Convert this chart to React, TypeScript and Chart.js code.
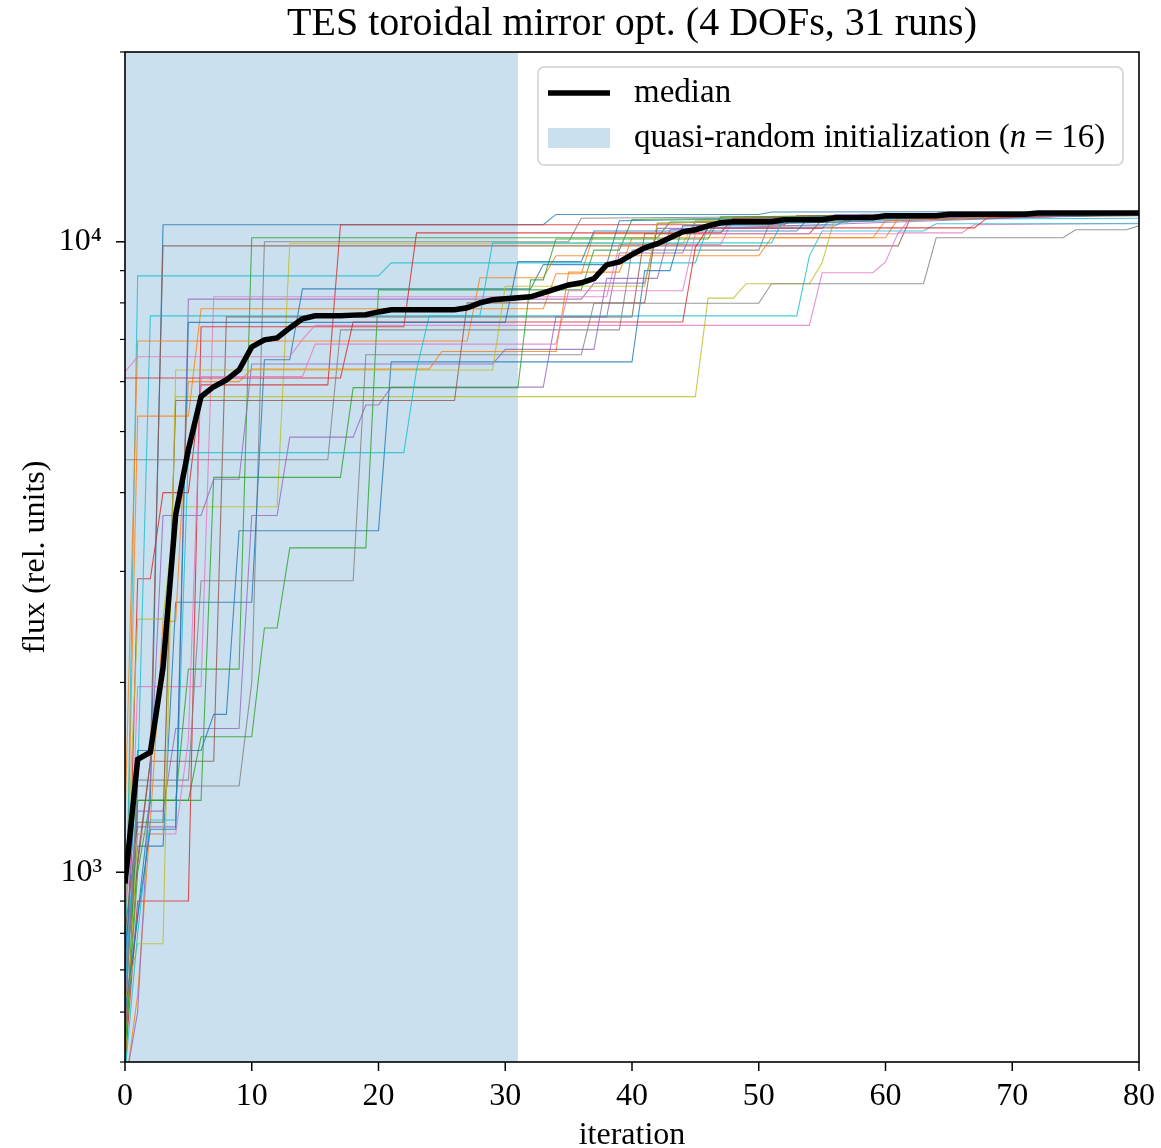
import React, { useEffect, useRef } from "react";
import { Chart, registerables } from "chart.js";

Chart.register(...registerables);

const FONT = '"Liberation Serif", "DejaVu Serif", serif';

const titleText = "TES toroidal mirror opt. (4 DOFs, 31 runs)";
const xTitle = "iteration";
const yTitle = "flux (rel. units)";
const xTicks = [0, 10, 20, 30, 40, 50, 60, 70, 80];
const yTicks = [500, 600, 700, 800, 900, 1000, 2000, 3000, 4000, 5000, 6000, 7000, 8000, 9000, 10000, 20000];
const yMajor = [1000, 10000];
const yLabels: Record<number, string> = { 1000: "10³", 10000: "10⁴" };
const xRange = [0, 80];
const yRange = [500, 20000];
const initRange = [0, 31];
const legendMedian = "median";
const legendInit = ["quasi-random initialization (", "n", " = 16)"];

const palette = ["#1f77b4", "#ff7f0e", "#2ca02c", "#d62728", "#9467bd", "#8c564b", "#e377c2", "#7f7f7f", "#bcbd22", "#17becf"];

// median best-so-far flux per iteration 0..80
const medianFlux = [
  960, 1510, 1550, 2110, 3690, 4680, 5680, 5890, 6040, 6260,
  6810, 6990, 7040, 7300, 7550, 7630, 7630, 7630, 7650, 7660,
  7740, 7800, 7800, 7800, 7800, 7800, 7800, 7860, 8000, 8090,
  8120, 8150, 8180, 8300, 8420, 8540, 8610, 8740, 9190, 9290,
  9540, 9780, 9930, 10150, 10370, 10450, 10600, 10720, 10760, 10760,
  10760, 10760, 10840, 10840, 10840, 10840, 10920, 10920, 10920, 10920,
  11000, 11000, 11000, 11000, 11000, 11060, 11060, 11060, 11060, 11060,
  11060, 11060, 11110, 11110, 11110, 11110, 11110, 11110, 11110, 11110, 11110,
];

// individual runs: [iteration, flux] vertices of the best-so-far curves
const run00 = [[0, 560], [2, 1300], [3, 10640], [33, 10640], [34, 11050], [50, 11050], [51, 11150], [80, 11170]];
const run01 = [[0, 700], [1, 5290], [5, 5290], [6, 7830], [33, 7830], [34, 8900], [36, 8900], [37, 10300], [46, 10300], [47, 10950], [80, 11120]];
const run02 = [[0, 470], [1, 1300], [4, 1300], [5, 2100], [9, 2100], [10, 10150], [42, 10150], [43, 10750], [57, 10750], [58, 11050], [80, 11130]];
const run03 = [[0, 520], [1, 2920], [2, 2920], [3, 4000], [5, 4000], [6, 5930], [16, 5930], [17, 10640], [52, 10640], [53, 11000], [80, 11150]];
const run04 = [[0, 640], [1, 1180], [4, 1180], [5, 8110], [36, 8110], [37, 8600], [41, 8600], [42, 10500], [55, 10500], [56, 11050], [80, 11110]];
const run05 = [[0, 700], [2, 1500], [3, 9850], [61, 9850], [62, 10950], [80, 11150]];
const run06 = [[0, 600], [1, 1970], [6, 1970], [7, 8180], [38, 8180], [39, 9900], [47, 9900], [48, 10900], [66, 10900], [67, 11050], [80, 11080]];
const run07 = [[0, 580], [1, 1370], [9, 1370], [10, 2000], [11, 10000], [35, 10000], [36, 10900], [80, 11080]];
const run08 = [[0, 860], [1, 2520], [3, 2520], [4, 3800], [12, 3800], [13, 9930], [44, 9930], [45, 10800], [80, 11100]];
const run09 = [[0, 620], [1, 8830], [20, 8830], [21, 9260], [45, 9260], [46, 10600], [56, 10600], [57, 10850], [80, 10900]];
const run10 = [[0, 760], [1, 1100], [3, 1100], [4, 2680], [10, 2680], [11, 6500], [13, 6500], [14, 8420], [32, 8420], [33, 9200], [38, 9200], [39, 10800], [80, 11100]];
const run11 = [[0, 1200], [1, 6960], [27, 6960], [28, 8770], [33, 8770], [34, 9500], [50, 9500], [51, 10150], [60, 10150], [61, 10900], [80, 11110]];
const run12 = [[0, 480], [1, 1300], [5, 1300], [6, 1640], [10, 1640], [11, 2440], [12, 2440], [13, 3270], [19, 3270], [20, 8390], [36, 8390], [37, 9700], [39, 9700], [40, 10850], [80, 11100]];
const run13 = [[0, 500], [1, 900], [5, 900], [6, 7330], [22, 7330], [23, 10330], [47, 10330], [48, 10900], [80, 11120]];
const run14 = [[0, 650], [1, 1250], [3, 1250], [4, 1690], [9, 1690], [10, 3680], [12, 3680], [13, 4900], [18, 4900], [19, 5510], [20, 5510], [21, 5880], [33, 5880], [34, 7600], [38, 7600], [39, 9600], [44, 9600], [45, 10750], [80, 11060]];
const run15 = [[0, 540], [1, 1050], [2, 1500], [7, 1500], [8, 7600], [40, 7600], [41, 10300], [54, 10300], [55, 10850], [80, 11000]];
const run16 = [[0, 6220], [1, 6570], [13, 6570], [14, 7000], [15, 7370], [54, 7370], [55, 8930], [59, 8930], [60, 9290], [61, 10330], [66, 10330], [67, 10640], [80, 10700]];
const run17 = [[0, 4510], [16, 4510], [17, 7250], [39, 7250], [40, 9700], [50, 9700], [51, 10900], [80, 11050]];
const run18 = [[0, 500], [1, 1150], [3, 1150], [4, 5680], [45, 5680], [46, 8140], [48, 8140], [49, 8580], [54, 8580], [55, 9260], [56, 10900], [80, 11100]];
const run19 = [[0, 640], [1, 1400], [2, 7630], [53, 7630], [54, 9500], [55, 10400], [63, 10400], [64, 10680], [80, 10680]];
const run20 = [[0, 700], [1, 1560], [6, 1560], [7, 1780], [8, 1780], [9, 3480], [20, 3480], [21, 6450], [40, 6450], [41, 9000], [43, 9000], [44, 10600], [80, 11050]];
const run21 = [[0, 450], [1, 640], [2, 1200], [3, 2500], [4, 2500], [5, 6000], [9, 6000], [10, 6280], [24, 6280], [25, 6700], [34, 6700], [35, 8950], [39, 8950], [40, 10150], [59, 10150], [60, 10800], [80, 11100]];
const run22 = [[0, 520], [1, 1000], [2, 1300], [6, 1300], [7, 4230], [17, 4230], [18, 5870], [31, 5870], [32, 8700], [33, 8700], [34, 10100], [46, 10100], [47, 10950], [80, 11130]];
const run23 = [[0, 6080], [17, 6080], [18, 7460], [44, 7460], [45, 9800], [46, 10520], [67, 10520], [68, 10900], [80, 11120]];
const run24 = [[0, 460], [1, 600], [2, 1400], [3, 3680], [6, 3680], [7, 4200], [9, 4200], [10, 6400], [29, 6400], [30, 6750], [37, 6750], [38, 8750], [42, 8750], [43, 10450], [80, 11080]];
const run25 = [[0, 800], [1, 1200], [3, 1200], [4, 5600], [26, 5600], [27, 8000], [41, 8000], [42, 10700], [80, 11120]];
const run26 = [[0, 900], [1, 1150], [4, 1150], [5, 1620], [6, 6110], [14, 6110], [15, 6880], [34, 6880], [35, 8360], [44, 8360], [45, 10300], [61, 10300], [62, 10950], [80, 11100]];
const run27 = [[0, 560], [1, 1400], [5, 1400], [6, 2900], [18, 2900], [19, 6620], [36, 6620], [37, 7990], [50, 7990], [51, 8580], [63, 8580], [64, 10150], [74, 10150], [75, 10450], [79, 10450], [80, 10600]];
const run28 = [[0, 620], [1, 770], [3, 770], [4, 6260], [29, 6260], [30, 8500], [41, 8500], [42, 10700], [80, 11180]];
const run29 = [[0, 480], [1, 800], [2, 1210], [4, 1210], [5, 4630], [22, 4630], [23, 6260], [24, 7630], [28, 7630], [29, 9960], [51, 9960], [52, 10900], [80, 11050]];
const run30 = [[0, 600], [1, 850], [2, 1170], [4, 1170], [5, 7450], [30, 7450], [31, 9300], [36, 9300], [37, 10400], [53, 10400], [54, 10950], [80, 11100]];

const runs = [
  run00, run01, run02, run03, run04, run05, run06, run07, run08, run09,
  run10, run11, run12, run13, run14, run15, run16, run17, run18, run19,
  run20, run21, run22, run23, run24, run25, run26, run27, run28, run29, run30,
];

function withAlpha(hex: string, a: number) {
  const r = parseInt(hex.slice(1, 3), 16);
  const g = parseInt(hex.slice(3, 5), 16);
  const b = parseInt(hex.slice(5, 7), 16);
  return `rgba(${r},${g},${b},${a})`;
}

const SHADE = "rgba(31,119,180,0.23)";

const shadePlugin = {
  id: "initShade",
  beforeDatasetsDraw(chart: any) {
    const { ctx, chartArea: a, scales } = chart;
    const x0 = scales.x.getPixelForValue(initRange[0]);
    const x1 = scales.x.getPixelForValue(initRange[1]);
    ctx.save();
    ctx.fillStyle = SHADE;
    ctx.fillRect(x0, a.top, x1 - x0, a.bottom - a.top);
    ctx.restore();
  },
};

const framePlugin = {
  id: "frameTicks",
  afterDatasetsDraw(chart: any) {
    const { ctx, chartArea: a, scales } = chart;
    ctx.save();
    ctx.strokeStyle = "#000";
    // ticks
    ctx.lineWidth = 1.5;
    for (const v of xTicks) {
      const px = scales.x.getPixelForValue(v);
      ctx.beginPath();
      ctx.moveTo(px, a.bottom);
      ctx.lineTo(px, a.bottom + 9);
      ctx.stroke();
    }
    for (const v of yTicks) {
      const py = scales.y.getPixelForValue(v);
      const major = yMajor.includes(v);
      ctx.lineWidth = major ? 1.5 : 1.2;
      ctx.beginPath();
      ctx.moveTo(a.left, py);
      ctx.lineTo(a.left - (major ? 9 : 5), py);
      ctx.stroke();
    }
    // frame
    ctx.lineWidth = 1.6;
    ctx.strokeRect(a.left, a.top, a.right - a.left, a.bottom - a.top);

    // title (centred on the axes)
    ctx.fillStyle = "#000";
    ctx.textAlign = "center";
    ctx.textBaseline = "middle";
    ctx.font = `40px ${FONT}`;
    ctx.fillText(titleText, (a.left + a.right) / 2, 24);

    // legend
    const fs = 33;
    const normal = `${fs}px ${FONT}`;
    const italic = `italic ${fs}px ${FONT}`;
    ctx.font = normal;
    const w0 = ctx.measureText(legendInit[0]).width;
    const w2 = ctx.measureText(legendInit[2]).width;
    ctx.font = italic;
    const w1 = ctx.measureText(legendInit[1]).width;
    const boxR = a.right - 16;
    const boxW = 585;
    const boxL = boxR - boxW;
    const boxT = a.top + 15;
    const boxH = 98;
    const r = 6;
    ctx.beginPath();
    ctx.moveTo(boxL + r, boxT);
    ctx.lineTo(boxL + boxW - r, boxT);
    ctx.arcTo(boxL + boxW, boxT, boxL + boxW, boxT + r, r);
    ctx.lineTo(boxL + boxW, boxT + boxH - r);
    ctx.arcTo(boxL + boxW, boxT + boxH, boxL + boxW - r, boxT + boxH, r);
    ctx.lineTo(boxL + r, boxT + boxH);
    ctx.arcTo(boxL, boxT + boxH, boxL, boxT + boxH - r, r);
    ctx.lineTo(boxL, boxT + r);
    ctx.arcTo(boxL, boxT, boxL + r, boxT, r);
    ctx.closePath();
    ctx.fillStyle = "rgba(255,255,255,0.8)";
    ctx.fill();
    ctx.strokeStyle = "#d0d0d0";
    ctx.lineWidth = 1.5;
    ctx.stroke();

    const padL = 10, handle = 62, gap = 24;
    const row1 = boxT + 26;
    const row2 = boxT + 71;
    const hx = boxL + padL;
    ctx.strokeStyle = "#000";
    ctx.lineWidth = 5.5;
    ctx.beginPath();
    ctx.moveTo(hx, row1);
    ctx.lineTo(hx + handle, row1);
    ctx.stroke();
    ctx.fillStyle = SHADE;
    ctx.fillRect(hx, row2 - 10, handle, 20);

    const tx = hx + handle + gap;
    ctx.fillStyle = "#000";
    ctx.textBaseline = "middle";
    ctx.textAlign = "left";
    ctx.font = normal;
    ctx.fillText(legendMedian, tx, row1);
    ctx.fillText(legendInit[0], tx, row2);
    ctx.font = italic;
    ctx.fillText(legendInit[1], tx + w0, row2);
    ctx.font = normal;
    ctx.fillText(legendInit[2], tx + w0 + w1, row2);
    ctx.restore();
  },
};

export default function App() {
  const ref = useRef<HTMLCanvasElement | null>(null);

  useEffect(() => {
    if (!ref.current) return;
    const medianDs = {
      label: legendMedian,
      data: medianFlux.map((v, i) => ({ x: i, y: v })),
      borderColor: "#000",
      borderWidth: 5.5,
      pointRadius: 0,
      tension: 0,
      fill: false,
      clip: 0,
    };
    const runDs = runs.map((r, i) => ({
      label: `run ${i + 1}`,
      data: r.map(([x, y]) => ({ x, y })),
      borderColor: withAlpha(palette[i % palette.length], 0.8),
      borderWidth: 1.1,
      pointRadius: 0,
      tension: 0,
      fill: false,
      clip: 0,
    }));
    const tickFont = { family: FONT, size: 32 };
    const chart = new Chart(ref.current, {
      type: "line",
      data: { datasets: [medianDs, ...runDs.reverse()] as any },
      options: {
        animation: false,
        responsive: false,
        devicePixelRatio: 1,
        parsing: false as any,
        normalized: true,
        layout: { padding: { left: 0, right: 20, top: 52, bottom: 0 } },
        plugins: {
          legend: { display: false },
          tooltip: { enabled: false },
          title: { display: false },
        },
        scales: {
          x: {
            type: "linear",
            min: xRange[0],
            max: xRange[1],
            afterBuildTicks: (s: any) => {
              s.ticks = xTicks.map((v) => ({ value: v }));
            },
            afterFit: (s: any) => {
              s.height = 86;
            },
            border: { display: false },
            grid: { drawOnChartArea: false, drawTicks: true, tickLength: 9, color: "rgba(0,0,0,0)", tickColor: "rgba(0,0,0,0)" },
            ticks: { autoSkip: false, maxRotation: 0, padding: 6, color: "#000", font: tickFont },
            title: { display: true, text: xTitle, color: "#000", font: tickFont, padding: { top: 0, bottom: -7 } },
          },
          y: {
            type: "logarithmic",
            min: yRange[0],
            max: yRange[1],
            afterBuildTicks: (s: any) => {
              s.ticks = yTicks.map((v) => ({ value: v }));
            },
            afterFit: (s: any) => {
              s.width = 125;
            },
            border: { display: false },
            grid: { drawOnChartArea: false, drawTicks: true, tickLength: 9, color: "rgba(0,0,0,0)", tickColor: "rgba(0,0,0,0)" },
            ticks: {
              autoSkip: false,
              padding: 14,
              color: "#000",
              font: tickFont,
              callback: (v: any) => yLabels[Number(v)] ?? "",
            },
            title: { display: true, text: yTitle, color: "#000", font: tickFont, padding: { top: 16, bottom: 0 } },
          },
        },
      } as any,
      plugins: [shadePlugin, framePlugin],
    });
    return () => chart.destroy();
  }, []);

  return (
    <div style={{ position: "fixed", left: 0, top: 0, width: 1161, height: 1148, background: "#fff" }}>
      <canvas ref={ref} width={1161} height={1148} style={{ display: "block" }} />
    </div>
  );
}
